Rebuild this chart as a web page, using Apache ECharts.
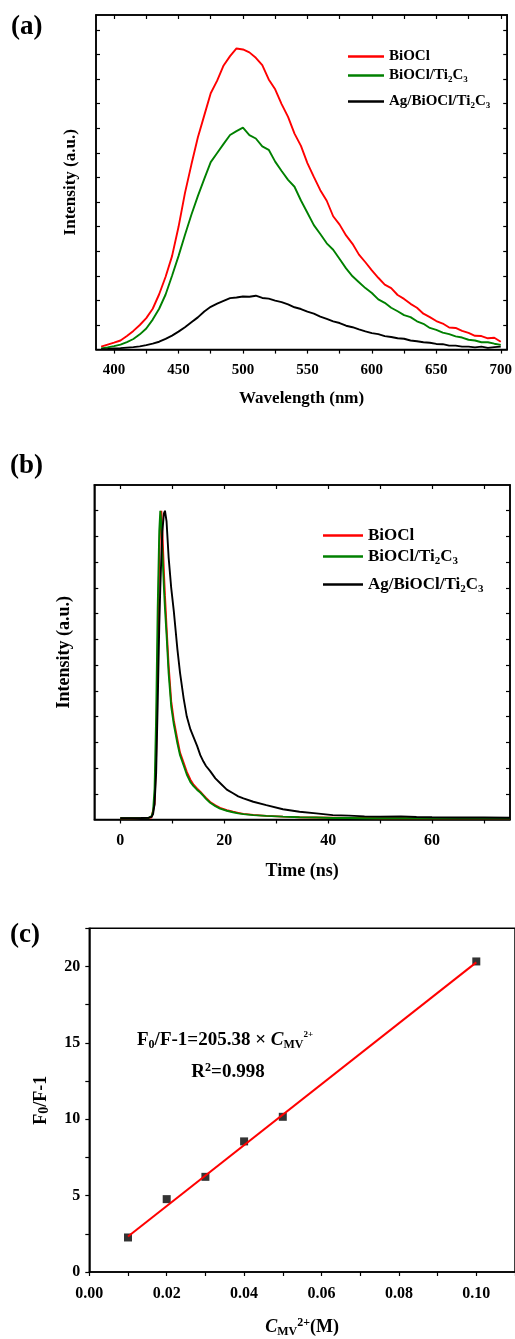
<!DOCTYPE html>
<html><head><meta charset="utf-8">
<script src="https://cdn.jsdelivr.net/npm/echarts@6/dist/echarts.min.js"></script>
<style>html,body{margin:0;padding:0;background:#fff}#c{width:515px;height:1339px}</style>
</head><body><div id="c"></div>
<script>
// ---------- Panel (a): PL spectra ----------
const wavelength = [390,395,400,405,410,415,420,425,430,435,440,445,450,455,460,465,470,475,480,485,490,495,500,505,510,515,520,525,530,535,540,545,550,555,560,565,570,575,580,585,590,595,600,605,610,615,620,625,630,635,640,645,650,655,660,665,670,675,680,685,690,695,700];
const plBiOCl = [0.12,0.20,0.28,0.37,0.55,0.76,1.00,1.28,1.66,2.25,2.96,3.80,4.98,6.36,7.52,8.62,9.52,10.42,10.93,11.55,11.93,12.24,12.20,12.08,11.86,11.56,10.98,10.58,9.98,9.46,8.78,8.28,7.58,7.02,6.48,6.05,5.42,5.08,4.64,4.30,3.86,3.55,3.22,2.92,2.64,2.50,2.22,2.06,1.86,1.70,1.46,1.32,1.16,1.06,0.90,0.88,0.76,0.68,0.56,0.55,0.46,0.48,0.32];
const plBiOClTi = [0.05,0.09,0.14,0.20,0.30,0.43,0.62,0.86,1.22,1.66,2.24,3.00,3.80,4.66,5.48,6.24,6.94,7.62,7.99,8.36,8.72,8.88,9.02,8.72,8.58,8.26,8.12,7.64,7.26,6.90,6.62,6.06,5.56,5.06,4.70,4.32,4.06,3.68,3.30,2.98,2.74,2.50,2.30,2.04,1.90,1.70,1.56,1.40,1.32,1.15,1.05,0.88,0.80,0.69,0.63,0.54,0.49,0.40,0.37,0.30,0.30,0.24,0.19];
const plAgBiOClTi = [0.02,0.03,0.05,0.06,0.08,0.10,0.13,0.18,0.24,0.32,0.44,0.57,0.73,0.91,1.11,1.31,1.55,1.74,1.87,1.98,2.09,2.12,2.16,2.15,2.19,2.10,2.07,1.99,1.93,1.84,1.72,1.65,1.54,1.46,1.34,1.25,1.15,1.08,0.97,0.91,0.82,0.74,0.67,0.63,0.55,0.51,0.46,0.44,0.37,0.34,0.30,0.28,0.23,0.22,0.16,0.16,0.12,0.12,0.09,0.12,0.07,0.10,0.12];
const wlTicks = [400,425,450,475,500,525,550,575,600,625,650,675,700];
const wlLabels = [400,450,500,550,600,650,700];

// ---------- Panel (b): TRPL decay ----------
const timeNs = [0,2,4,5.5,6,6.3,6.6,6.9,7.2,7.5,7.7,7.9,8.1,8.4,8.6,8.9,9.3,9.8,10.3,11,11.5,12.2,12.8,13.5,14.1,14.8,15.4,16,16.5,16.8,17.3,18.3,19.2,20.5,21.7,22.7,23.7,25.6,28.1,31.3,34.5,37.7,40.9,44,47,50,54,57,60,65,70,75];
const trBiOCl = [0.05,0.05,0.06,0.07,0.08,0.15,0.6,2.5,6.5,10.3,11.6,12.0,11.2,9.6,8.7,7.5,6.0,4.6,3.85,3.1,2.6,2.2,1.85,1.55,1.35,1.2,1.08,0.95,0.84,0.77,0.68,0.55,0.45,0.36,0.30,0.26,0.22,0.18,0.14,0.11,0.09,0.08,0.07,0.06,0.06,0.05,0.05,0.05,0.05,0.05,0.05,0.05];
const trBiOClTi = [0.05,0.05,0.06,0.07,0.12,0.3,1.2,4.0,8.2,11.2,12.0,11.5,10.4,9.0,8.2,7.2,5.7,4.4,3.7,2.95,2.5,2.1,1.75,1.45,1.3,1.15,1.05,0.92,0.8,0.74,0.65,0.52,0.42,0.34,0.28,0.24,0.21,0.17,0.14,0.11,0.09,0.08,0.06,0.06,0.05,0.05,0.05,0.05,0.05,0.05,0.05,0.05];
const trAgBiOClTi = [0.05,0.05,0.06,0.07,0.1,0.2,0.6,1.8,4.5,7.5,9.0,10.2,11.2,11.9,12.0,11.6,10.2,9.0,8.1,6.6,5.7,4.7,4.0,3.5,3.2,2.85,2.5,2.25,2.08,2.12,1.88,1.6,1.42,1.16,1.02,0.9,0.82,0.69,0.56,0.40,0.30,0.24,0.17,0.15,0.12,0.11,0.12,0.10,0.09,0.08,0.08,0.07];
const tTicks = [0,10,20,30,40,50,60,70];
const tLabels = [0,20,40,60];

// ---------- Panel (c): Stern-Volmer ----------
const concMV = [0.01,0.02,0.03,0.04,0.05,0.10];
const f0Ratio = [2.26,4.77,6.23,8.55,10.16,20.33];
const fitConc = [0.01,0.10];
const fitRatio = [2.32,20.27];
const cTicks = [0,0.01,0.02,0.03,0.04,0.05,0.06,0.07,0.08,0.09,0.10,0.11];
const cLabels = [0,0.02,0.04,0.06,0.08,0.10];
const rTicks = [0,2.5,5,7.5,10,12.5,15,17.5,20,22.5];
const rLabels = [0,5,10,15,20];

const seriesNames = ['BiOCl','BiOCl/Ti2C3','Ag/BiOCl/Ti2C3'];
const colors = ['#ff0000','#008000','#000000'];

const FF = '"Liberation Serif","Times New Roman",serif';
const zip = (a,b) => a.map((v,i) => [v,b[i]]);
const bold = (fs) => ({fontSize:fs,fontWeight:'bold',fontFamily:FF,color:'#000'});

function richName(name){
  if (name === 'BiOCl') return '{b|BiOCl}';
  const pre = name.replace('Ti2C3','Ti');
  return '{b|' + pre + '}{s|2}{b|C}{s|3}';
}
function legendRow(name, left, top, fs, w){
  return {
    data:[name], orient:'vertical', left:left, top:top, padding:0,
    icon:'rect', itemWidth:w, itemHeight:2.5, selectedMode:false,
    formatter: richName,
    textStyle:{...bold(fs), rich:{
      b: bold(fs),
      s: {...bold(Math.round(fs*0.62)), padding:[Math.round(fs*0.5),0,0,0]}
    }}
  };
}
const tickStyle = {color:'#000', width:1.2};
const axLine = {show:true, onZero:false, lineStyle:{color:'#000', width:1.5}};

function valueAxis(o){
  return Object.assign({type:'value', splitLine:{show:false}, axisLine:axLine}, o);
}
const LW = 1.9;

const option = {
  animation:false,
  backgroundColor:'#fff',
  grid:[
    {left:96, top:15, width:413, height:334.6, show:true, borderColor:'#000', borderWidth:1.5},
    {left:94.3, top:485, width:415.7, height:334.5, show:true, borderColor:'#000', borderWidth:1.5},
    {left:89.3, top:928.3, width:426.8, height:345.7, show:true, borderColor:'#000', borderWidth:1.5}
  ],
  xAxis:[
    valueAxis({gridIndex:0, min:386, max:705,
      axisTick:{show:true, inside:false, length:4, customValues:wlTicks, lineStyle:tickStyle},
      axisLabel:{customValues:wlLabels, margin:13, ...bold(15)},
      name:'Wavelength (nm)', nameLocation:'middle', nameGap:41, nameTextStyle:bold(17)}),
    valueAxis({gridIndex:0, min:386, max:705, position:'top',
      axisTick:{show:true, inside:true, length:4, customValues:wlTicks, lineStyle:tickStyle},
      axisLabel:{show:false}}),
    valueAxis({gridIndex:1, min:-5, max:75,
      axisTick:{show:true, inside:false, length:4, customValues:tTicks, lineStyle:tickStyle},
      axisLabel:{customValues:tLabels, margin:13, ...bold(16)},
      name:'Time (ns)', nameLocation:'middle', nameGap:43, nameTextStyle:bold(18)}),
    valueAxis({gridIndex:1, min:-5, max:75, position:'top',
      axisTick:{show:true, inside:true, length:4, customValues:tTicks, lineStyle:tickStyle},
      axisLabel:{show:false}}),
    valueAxis({gridIndex:2, min:0, max:0.11,
      axisTick:{show:true, inside:false, length:4, customValues:cTicks, lineStyle:tickStyle},
      axisLabel:{customValues:cLabels, margin:14, formatter:(v)=>v.toFixed(2), ...bold(16)},
      name:'{i|C}{s|MV}{p|2+}{n|(M)}', nameLocation:'middle', nameGap:45,
      nameTextStyle:{...bold(18), rich:{
        i:{...bold(18), fontStyle:'italic'},
        s:{...bold(12), padding:[9,0,0,0]},
        p:{...bold(12), padding:[0,0,9,0]},
        n:bold(18)
      }}})
  ],
  yAxis:[
    valueAxis({gridIndex:0, min:0, max:13.6,
      axisTick:{show:true, inside:true, length:4, customValues:[1,2,3,4,5,6,7,8,9,10,11,12,13], lineStyle:tickStyle},
      axisLabel:{show:false},
      name:'Intensity (a.u.)', nameLocation:'middle', nameGap:17, nameTextStyle:bold(17)}),
    valueAxis({gridIndex:0, min:0, max:13.6, position:'right',
      axisTick:{show:true, inside:true, length:4, customValues:[1,2,3,4,5,6,7,8,9,10,11,12,13], lineStyle:tickStyle},
      axisLabel:{show:false}}),
    valueAxis({gridIndex:1, min:0, max:13,
      axisTick:{show:true, inside:true, length:4, customValues:[1,2,3,4,5,6,7,8,9,10,11,12], lineStyle:tickStyle},
      axisLabel:{show:false},
      name:'Intensity (a.u.)', nameLocation:'middle', nameGap:21, nameTextStyle:bold(18)}),
    valueAxis({gridIndex:1, min:0, max:13, position:'right',
      axisTick:{show:true, inside:true, length:4, customValues:[1,2,3,4,5,6,7,8,9,10,11,12], lineStyle:tickStyle},
      axisLabel:{show:false}}),
    valueAxis({gridIndex:2, min:0, max:22.5,
      axisTick:{show:true, inside:false, length:4, customValues:rTicks, lineStyle:tickStyle},
      axisLabel:{customValues:rLabels, margin:9, ...bold(16)},
      name:'{n|F}{s|0}{n|/F-1}', nameLocation:'middle', nameGap:38,
      nameTextStyle:{...bold(18), rich:{
        n:bold(18),
        s:{...bold(14), padding:[6,0,0,0]}
      }}})
  ],
  legend:[
    legendRow(seriesNames[0], 348, 49, 15, 36),
    legendRow(seriesNames[1], 348, 68, 15, 36),
    legendRow(seriesNames[2], 348, 94, 15, 36),
    legendRow(seriesNames[0], 323, 527, 17, 40),
    legendRow(seriesNames[1], 323, 548, 17, 40),
    legendRow(seriesNames[2], 323, 576, 17, 40)
  ],
  graphic:[
    {type:'text', x:11, y:27, style:{text:'(a)', ...bold(27), fill:'#000', verticalAlign:'middle'}},
    {type:'text', x:10, y:466, style:{text:'(b)', ...bold(27), fill:'#000', verticalAlign:'middle'}},
    {type:'text', x:10, y:935, style:{text:'(c)', ...bold(27), fill:'#000', verticalAlign:'middle'}},
    {type:'text', x:225, y:1040, style:{
      text:'{n|F}{s|0}{n|/F-1=205.38 × }{i|C}{s|MV}{p|2+}',
      align:'center', verticalAlign:'middle', fill:'#000',
      rich:{
        n:{...bold(19), fill:'#000'},
        i:{...bold(19), fontStyle:'italic'},
        s:{...bold(12), padding:[9,0,0,0]},
        p:{...bold(9), padding:[0,0,11,0]}
      }}},
    {type:'text', x:228, y:1072, style:{
      text:'{n|R}{p|2}{n|=0.998}',
      align:'center', verticalAlign:'middle', fill:'#000',
      rich:{
        n:bold(19),
        p:{...bold(12), padding:[0,0,8,0]}
      }}}
  ],
  series:[
    {name:seriesNames[0], type:'line', xAxisIndex:0, yAxisIndex:0, data:zip(wavelength, plBiOCl), showSymbol:false, symbol:'none', color:colors[0], lineStyle:{width:LW, color:colors[0]}},
    {name:seriesNames[1], type:'line', xAxisIndex:0, yAxisIndex:0, data:zip(wavelength, plBiOClTi), showSymbol:false, symbol:'none', color:colors[1], lineStyle:{width:LW, color:colors[1]}},
    {name:seriesNames[2], type:'line', xAxisIndex:0, yAxisIndex:0, data:zip(wavelength, plAgBiOClTi), showSymbol:false, symbol:'none', color:colors[2], lineStyle:{width:LW, color:colors[2]}},
    {name:seriesNames[0], type:'line', xAxisIndex:2, yAxisIndex:2, data:zip(timeNs, trBiOCl), showSymbol:false, symbol:'none', color:colors[0], lineStyle:{width:LW, color:colors[0]}},
    {name:seriesNames[1], type:'line', xAxisIndex:2, yAxisIndex:2, data:zip(timeNs, trBiOClTi), showSymbol:false, symbol:'none', color:colors[1], lineStyle:{width:LW, color:colors[1]}},
    {name:seriesNames[2], type:'line', xAxisIndex:2, yAxisIndex:2, data:zip(timeNs, trAgBiOClTi), showSymbol:false, symbol:'none', color:colors[2], lineStyle:{width:LW, color:colors[2]}},
    {name:'data', type:'scatter', xAxisIndex:4, yAxisIndex:4, data:zip(concMV, f0Ratio), symbol:'rect', symbolSize:8, itemStyle:{color:'#000'}},
    {name:'fit', type:'line', xAxisIndex:4, yAxisIndex:4, data:zip(fitConc, fitRatio), showSymbol:false, symbol:'none', lineStyle:{width:2, color:'#ff0000'}, z:3}
  ]
};
const chart = echarts.init(document.getElementById('c'), null, {renderer:'canvas'});
chart.setOption(option);
</script></body></html>
